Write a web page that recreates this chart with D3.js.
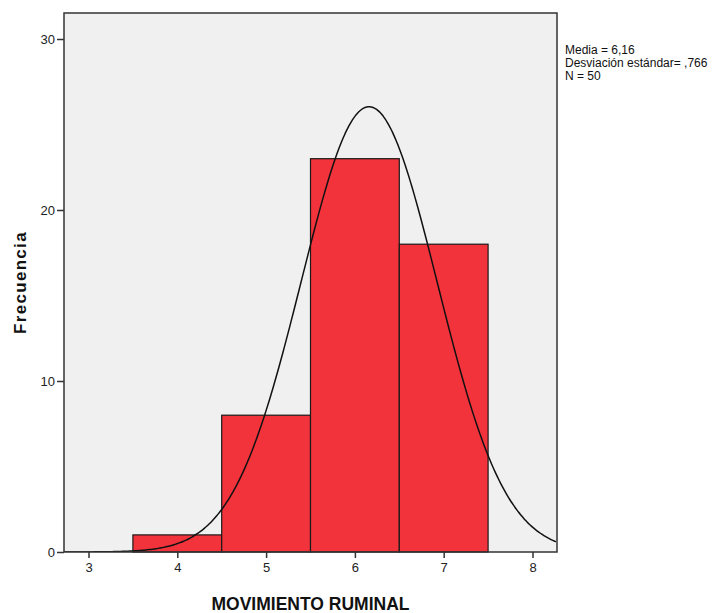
<!DOCTYPE html>
<html>
<head>
<meta charset="utf-8">
<title>Histograma</title>
<script src="https://cdn.jsdelivr.net/npm/d3@7"></script>
<style>
  body { margin: 0; background: #fff; }
  text { font-family: "Liberation Sans", Arial, sans-serif; }
</style>
</head>
<body>
<div id="chart"></div>
<script>
// histogram bins (lower edge, upper edge) and counts
var binStarts = [3.5, 4.5, 5.5, 6.5];
var binEnds = [4.5, 5.5, 6.5, 7.5];
var counts = [1, 8, 23, 18];
var xTicks = [3, 4, 5, 6, 7, 8];
var yTicks = [0, 10, 20, 30];
var mean = 6.16, sd = 0.766, n = 50;
var legendLines = ["Media = 6,16", "Desviación estándar= ,766", "N = 50"];

var width = 722, height = 613;
var plotL = 64, plotR = 557, plotT = 13, plotB = 552;

var svg = d3.select('#chart').append('svg')
  .attr('width', width)
  .attr('height', height);

var x = d3.scaleLinear().domain([2.724, 8.276]).range([plotL, plotR]);
var y = d3.scaleLinear().domain([0, 30]).range([plotB, plotB - 513]);

// plot background
svg.append('rect')
  .attr('x', plotL).attr('y', plotT)
  .attr('width', plotR - plotL).attr('height', plotB - plotT)
  .attr('fill', '#f0f0f0');

svg.append('clipPath').attr('id', 'plotclip')
  .append('rect')
  .attr('x', plotL).attr('y', plotT)
  .attr('width', plotR - plotL).attr('height', plotB - plotT);

// bars
svg.append('g').selectAll('rect')
  .data(counts).enter()
  .append('rect')
  .attr('x', function (d, i) { return x(binStarts[i]); })
  .attr('y', function (d) { return y(d); })
  .attr('width', function (d, i) { return x(binEnds[i]) - x(binStarts[i]); })
  .attr('height', function (d) { return y(0) - y(d); })
  .attr('fill', '#f2333c')
  .attr('stroke', '#1a1a1a')
  .attr('stroke-width', 1.2);

// fitted normal curve, scaled to counts (bin width 1)
var curvePts = d3.range(2.724, 8.28, 0.02).map(function (v) {
  var z = (v - mean) / sd;
  return [v, n * Math.exp(-0.5 * z * z) / (sd * Math.sqrt(2 * Math.PI))];
});
svg.append('path')
  .datum(curvePts)
  .attr('clip-path', 'url(#plotclip)')
  .attr('fill', 'none')
  .attr('stroke', '#111')
  .attr('stroke-width', 1.5)
  .attr('d', d3.line()
    .x(function (d) { return x(d[0]); })
    .y(function (d) { return y(d[1]); })
    .curve(d3.curveBasis));

// frame
svg.append('rect')
  .attr('x', plotL).attr('y', plotT)
  .attr('width', plotR - plotL).attr('height', plotB - plotT)
  .attr('fill', 'none')
  .attr('stroke', '#333')
  .attr('stroke-width', 1.5);

// axes
var xAxis = svg.append('g')
  .attr('transform', 'translate(0,' + plotB + ')')
  .call(d3.axisBottom(x).tickValues(xTicks).tickSize(6).tickPadding(5).tickFormat(d3.format('d')));
var yAxis = svg.append('g')
  .attr('transform', 'translate(' + plotL + ',0)')
  .call(d3.axisLeft(y).tickValues(yTicks).tickSize(7).tickPadding(2).tickFormat(d3.format('d')));

[xAxis, yAxis].forEach(function (a) {
  a.select('.domain').remove();
  a.selectAll('line').attr('stroke', '#333').attr('stroke-width', 1.5);
  a.selectAll('text')
    .attr('fill', '#222')
    .style('font-size', '13px')
    .style('font-family', '"Liberation Sans", Arial, sans-serif');
});

// axis titles
svg.append('text')
  .attr('x', (plotL + plotR) / 2)
  .attr('y', 610)
  .attr('text-anchor', 'middle')
  .style('font-size', '17.5px')
  .style('font-weight', 'bold')
  .attr('fill', '#111')
  .text('MOVIMIENTO RUMINAL');

svg.append('text')
  .attr('transform', 'translate(26,' + ((plotT + plotB) / 2) + ') rotate(-90)')
  .attr('text-anchor', 'middle')
  .style('font-size', '17px')
  .style('font-weight', 'bold')
  .style('letter-spacing', '1.3px')
  .attr('fill', '#111')
  .text('Frecuencia');

// statistics legend
svg.append('g').selectAll('text')
  .data(legendLines).enter()
  .append('text')
  .attr('x', 565)
  .attr('y', function (d, i) { return 54 + i * 13; })
  .style('font-size', '12px')
  .attr('fill', '#111')
  .text(function (d) { return d; });
</script>
</body>
</html>
